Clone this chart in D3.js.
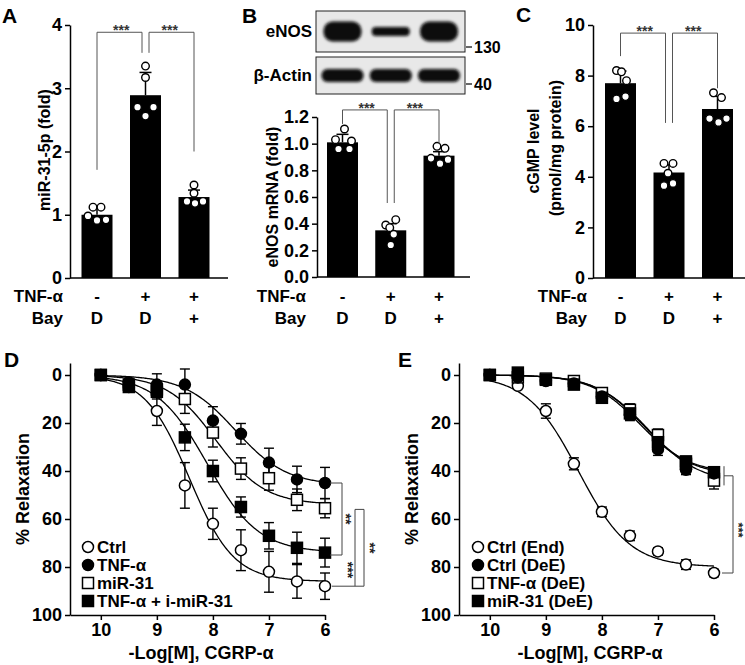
<!DOCTYPE html>
<html><head><meta charset="utf-8">
<script src="https://cdn.jsdelivr.net/npm/d3@7"></script>
<style>body{margin:0;background:#fff}svg{display:block}</style>
</head><body><script>
// ---------------- DATA ----------------
const groups = ["Veh", "TNF", "TNF+Bay"];
const tnfRow = ["-", "+", "+"];
const bayRow = ["D", "D", "+"];

const mirMean = [1.0, 2.89, 1.28];
const mirErr  = [0.11, 0.36, 0.11];
const mirPts  = [[1.12,1.12,0.98,0.91,0.92],[3.35,3.17,2.70,2.56,2.70],[1.47,1.34,1.21,1.18,1.21]];
const mirTicks = [0,1,2,3,4];

const enosMean = [1.01, 0.35, 0.91];
const enosErr  = [0.06, 0.05, 0.03];
const enosPts  = [[1.11,1.03,1.02,0.96,0.96],[0.43,0.39,0.37,0.32,0.24],[0.98,0.965,0.89,0.88,0.85]];
const enosTicks = [0,0.2,0.4,0.6,0.8,1.0,1.2];

const cgmpMean = [7.7, 4.17, 6.68];
const cgmpErr  = [0.48, 0.30, 0.50];
const cgmpPts  = [[8.2,8.15,7.8,7.08,7.17],[4.53,4.53,4.14,3.65,3.74],[7.32,7.13,6.3,6.15,6.3]];
const cgmpTicks = [0,2,4,6,8,10];

const blotLabels  = ["eNOS", "β-Actin"];
const blotMarkers = ["130", "40"];
const enosBand  = [1.0, 0.45, 1.0];
const actinBand = [1.0, 1.0, 1.0];

const logDose = [10, 9.5, 9, 8.5, 8, 7.5, 7, 6.5, 6];
const doseTicks = [10, 9, 8, 7, 6];
const relaxTicks = [0, 20, 40, 60, 80, 100];

const dNames = ["Ctrl", "TNF-α", "miR-31", "TNF-α + i-miR-31"];
const dCtrl     = [0, 5, 15, 46, 62, 73, 82, 86, 88];
const dCtrlErr  = [0, 1, 6, 9.5, 6.5, 8.5, 8.5, 7, 5.5];
const dTnf      = [0, 3, 4, 4, 19, 24.5, 36.5, 43.5, 45];
const dTnfErr   = [0, 1, 4.5, 6.5, 5.8, 4.3, 6, 5.5, 6.5];
const dMir      = [0, 4, 6, 10, 24, 39, 43, 52, 55.5];
const dMirErr   = [0, 1, 2, 6, 6, 4.5, 5, 4.5, 4];
const dTnfI     = [0, 5, 7, 26, 40, 55, 67, 72, 74];
const dTnfIErr  = [0, 1, 3, 5.5, 4.5, 4.2, 5.5, 6.5, 6];
const dFitTop = [86, 46, 54, 74];
const dFitEC  = [8.42, 7.6, 7.95, 8.1];
const dFitN   = [1.1, 0.95, 1.0, 0.95];

const eNames = ["Ctrl (End)", "Ctrl (DeE)", "TNF-α (DeE)", "miR-31 (DeE)"];
const eEnd      = [0, 4.5, 15, 37, 57, 67, 73.5, 79, 82.5];
const eEndErr   = [0, 1, 3, 2.5, 2, 2, 1.5, 2, 1.5];
const eCtrlDe   = [0, 1, 2.5, 3.5, 9, 16.5, 31, 39.5, 41];
const eCtrlDeErr= [0, 1, 1, 1, 2, 2.5, 2.5, 2, 2];
const eTnfDe    = [0, 1, 1.5, 2.5, 7.5, 14.5, 25, 37, 44];
const eTnfDeErr = [0, 1, 1, 1, 2, 2.5, 2.5, 2, 3.5];
const eMirDe    = [0, -1, 2, 4, 9.5, 16, 28, 36, 40.5];
const eMirDeErr = [0, 1, 1, 1, 2, 2.5, 2.5, 2, 2];
const eFitTop = [80, 41, 45, 42];
const eFitEC  = [8.42, 7.32, 7.18, 7.26];
const eFitN   = [0.95, 1.0, 0.95, 1.0];

// ---------------- DRAWING ----------------
const FONT = '"Liberation Sans", Arial, Helvetica, sans-serif';
const svg = d3.select("body").append("svg").attr("width", 745).attr("height", 665)
  .style("font-family", FONT).style("font-weight", "bold");

const defs = svg.append("defs");
defs.append("filter").attr("id", "blur").attr("x", "-20%").attr("y", "-50%").attr("width", "140%").attr("height", "200%")
  .append("feGaussianBlur").attr("stdDeviation", 1.6);

function styleAxis(g, fs) {
  g.attr("font-size", null).attr("font-family", null);
  g.selectAll("path,line").attr("stroke", "#000").attr("stroke-width", 1.5);
  g.selectAll("text").attr("font-size", fs).attr("font-family", FONT)
    .attr("font-weight", "bold").attr("fill", "#000");
}

function txt(x, y, s, o = {}) {
  const t = svg.append("text").attr("x", x).attr("y", y).text(s)
    .attr("font-size", o.fs || 17).attr("text-anchor", o.anchor || "start")
    .attr("fill", o.fill || "#000");
  if (o.rot !== undefined) t.attr("transform", `rotate(${o.rot},${x},${y})`);
  if (o.mid) t.attr("dominant-baseline", "central");
  return t;
}

const barW = 31;
function barPanel(c) {
  const x = d3.scalePoint().domain(groups).range(c.centers);
  const y = d3.scaleLinear().domain(c.domain).range(c.yRange);
  const g = svg.append("g");
  g.selectAll(".bar").data(c.mean).join("rect")
    .attr("x", (d, i) => x(groups[i]) - barW / 2).attr("y", d => y(d))
    .attr("width", barW).attr("height", d => y(0) - y(d)).attr("fill", "#000");
  const eb = g.selectAll(".eb").data(c.mean).join("g");
  eb.append("line").attr("x1", (d, i) => x(groups[i])).attr("x2", (d, i) => x(groups[i]))
    .attr("y1", d => y(d)).attr("y2", (d, i) => y(d + c.err[i])).attr("stroke", "#000").attr("stroke-width", 1.5);
  eb.append("line").attr("x1", (d, i) => x(groups[i]) - 6).attr("x2", (d, i) => x(groups[i]) + 6)
    .attr("y1", (d, i) => y(d + c.err[i])).attr("y2", (d, i) => y(d + c.err[i])).attr("stroke", "#000").attr("stroke-width", 1.5);
  c.pts.forEach((arr, i) => {
    g.selectAll(null).data(arr).join("circle")
      .attr("cx", (d, j) => x(groups[i]) + c.jit[i][j]).attr("cy", d => y(d)).attr("r", 3.8)
      .attr("fill", "#fff").attr("stroke", "#000").attr("stroke-width", 1.4);
  });
  const ya = svg.append("g").attr("transform", `translate(${c.axisX},0)`)
    .call(d3.axisLeft(y).tickValues(c.ticks).tickFormat(c.fmt).tickSize(5).tickSizeOuter(0).tickPadding(3));
  styleAxis(ya, 18);
  svg.append("line").attr("x1", c.axisX).attr("x2", c.xEnd).attr("y1", y(0)).attr("y2", y(0))
    .attr("stroke", "#000").attr("stroke-width", 1.5);
  const b = c.br, bg = svg.append("g").attr("stroke", "#555").attr("stroke-width", 1).attr("fill", "none");
  const xm = x(groups[1]);
  bg.append("path").attr("d", `M${x(groups[0])},${y(b.left)}V${y(b.top)}H${xm - 3.5}V${y(b.mid)}`);
  bg.append("path").attr("d", `M${xm + 3.5},${y(b.mid)}V${y(b.top)}H${x(groups[2])}V${y(b.right)}`);
  txt((x(groups[0]) + xm) / 2, y(b.top) + 3, "***", { fs: 14, anchor: "middle", fill: "#333" });
  txt((x(groups[2]) + xm) / 2, y(b.top) + 3, "***", { fs: 14, anchor: "middle", fill: "#333" });
  txt(c.rowX, 302, "TNF-α", { anchor: "end" });
  txt(c.rowX, 324, "Bay", { anchor: "end" });
  tnfRow.forEach((s, i) => txt(x(groups[i]), 302, s, { anchor: "middle" }));
  bayRow.forEach((s, i) => txt(x(groups[i]), 324, s, { anchor: "middle" }));
  return x;
}

// Panel A
barPanel({ centers: [97, 194], domain: [0, 4], yRange: [278, 25], mean: mirMean, err: mirErr, pts: mirPts,
  jit: [[-4, 4, -9, 0, 9], [0, 0, -8, 0, 8], [0, 0, -7, 1, 9]], ticks: mirTicks, fmt: d3.format("d"),
  axisX: 70, xEnd: 228, br: { top: 3.885, left: 1.71, mid: 3.56, right: 2.0 }, rowX: 63 });
txt(44, 150, "miR-31-5p (fold)", { fs: 16, anchor: "middle", rot: -90, mid: true });
txt(2, 23, "A", { fs: 21 });

// Panel B
const xB = barPanel({ centers: [342.5, 439], domain: [0, 1.2], yRange: [277, 117], mean: enosMean, err: enosErr, pts: enosPts,
  jit: [[2, -7, 9, -4, 7], [5, -5, -1, 3, 0], [-2, 6, -8, 9, 1]], ticks: enosTicks, fmt: d3.format(".1f"),
  axisX: 317, xEnd: 470, br: { top: 1.253, left: 1.148, mid: 0.555, right: 1.0 }, rowX: 306 });
txt(272, 197, "eNOS mRNA (fold)", { fs: 16, anchor: "middle", rot: -90, mid: true });
txt(242, 23, "B", { fs: 21 });

// Western blot
const boxes = [{ y: 11, h: 41, band: enosBand, th: 20, w: 38 }, { y: 57, h: 37, band: actinBand, th: 13, w: 42 }];
boxes.forEach((bx, k) => {
  svg.append("rect").attr("x", 316).attr("y", bx.y).attr("width", 149).attr("height", bx.h)
    .attr("fill", "#e8e8e8").attr("stroke", "#222").attr("stroke-width", 1);
  const cy = bx.y + bx.h / 2;
  svg.append("g").attr("filter", "url(#blur)").selectAll("rect").data(bx.band).join("rect")
    .attr("x", (d, i) => xB(groups[i]) - bx.w / 2).attr("width", bx.w)
    .attr("y", d => cy - bx.th * d / 2).attr("height", d => bx.th * d)
    .attr("rx", d => bx.th * d / 2.2).attr("fill", "#0a0a0a");
  txt(312, cy, blotLabels[k], { fs: 17, anchor: "end", mid: true });
  const my = k === 0 ? 47 : 84;
  svg.append("line").attr("x1", 466).attr("x2", 472).attr("y1", my).attr("y2", my).attr("stroke", "#000").attr("stroke-width", 1.2);
  txt(474, my, blotMarkers[k], { fs: 16, mid: true });
});

// Panel C
barPanel({ centers: [620.5, 717.5], domain: [0, 10], yRange: [278, 25], mean: cgmpMean, err: cgmpErr, pts: cgmpPts,
  jit: [[-4, 1, 6, -4, 5], [-5, 4, -1, -5, 4], [-4, 4, -8, 1, 9]], ticks: cgmpTicks, fmt: d3.format("d"),
  axisX: 593, xEnd: 745, br: { top: 9.68, left: 8.77, mid: 6.13, right: 7.5 }, rowX: 587 });
txt(533, 151, "cGMP level", { fs: 16, anchor: "middle", rot: -90, mid: true });
txt(555, 148, "(pmol/mg protein)", { fs: 16, anchor: "middle", rot: -90, mid: true });
txt(516, 22, "C", { fs: 21 });

// ---------------- Dose-response panels ----------------
function dosePanel(c) {
  const x = d3.scaleLinear().domain([10.55, 6]).range([c.axisX, c.axisX + 255]);
  const y = d3.scaleLinear().domain([-5, 100]).range([363, 615]);
  const g = svg.append("g");
  const line = d3.line().x(d => x(d[0])).y(d => y(d[1]));
  const xs = d3.range(0, 201).map(i => 10 - i * 0.02);
  c.series.forEach(s => {
    const f = v => s.top / (1 + Math.pow(10, s.n * (v - s.ec)));
    g.append("path").attr("d", line(xs.map(v => [v, f(v)]))).attr("fill", "none")
      .attr("stroke", "#000").attr("stroke-width", 1.3);
  });
  c.order.forEach(k => {
    const s = c.series[k];
    const eg = g.append("g").attr("stroke", "#000").attr("stroke-width", 1.4);
    logDose.forEach((d, i) => {
      const e = s.err[i]; if (!e) return;
      const xx = x(d);
      eg.append("line").attr("x1", xx).attr("x2", xx).attr("y1", y(s.val[i] - e)).attr("y2", y(s.val[i] + e));
      [s.val[i] - e, s.val[i] + e].forEach(v => eg.append("line").attr("x1", xx - 5).attr("x2", xx + 5).attr("y1", y(v)).attr("y2", y(v)));
    });
  });
  c.order.forEach(k => {
    const s = c.series[k];
    marker(g.selectAll(null).data(s.val).join(s.shape === "c" ? "circle" : "rect"), s.shape, s.fill,
      (d, i) => x(logDose[i]), d => y(d));
  });
  const ya = svg.append("g").attr("transform", `translate(${c.axisX},0)`)
    .call(d3.axisLeft(y).tickValues(relaxTicks).tickSize(5).tickSizeOuter(0).tickPadding(3));
  styleAxis(ya, 18);
  const xa = svg.append("g").attr("transform", `translate(0,615)`)
    .call(d3.axisBottom(x).tickValues(doseTicks).tickFormat(d3.format("d")).tickSize(5).tickSizeOuter(0).tickPadding(3));
  styleAxis(xa, 18);
  txt(c.axisX - 47, 489, "% Relaxation", { fs: 18, anchor: "middle", rot: -90, mid: true });
  txt(c.axisX + 131, 659, "-Log[M], CGRP-α", { fs: 18, anchor: "middle" });
  c.names.forEach((nm, k) => {
    const s = c.series[k], ly = 547 + k * 18;
    marker(svg.append(s.shape === "c" ? "circle" : "rect").datum(0), s.shape, s.fill, () => c.legX, () => ly);
    txt(c.legX + 9, ly + 6, nm, { fs: 17 });
  });
  return { x, y };
}
function marker(sel, shape, fill, fx, fy) {
  if (shape === "c") sel.attr("cx", fx).attr("cy", fy).attr("r", 5.5);
  else sel.attr("x", (d, i) => fx(d, i) - 5.5).attr("y", (d, i) => fy(d, i) - 5.5).attr("width", 11).attr("height", 11);
  sel.attr("fill", fill).attr("stroke", "#000").attr("stroke-width", 1.5);
}

// Panel D
const D = dosePanel({ axisX: 70, legX: 88, names: dNames, order: [0, 2, 1, 3],
  series: [
    { val: dCtrl, err: dCtrlErr, shape: "c", fill: "#fff", top: dFitTop[0], ec: dFitEC[0], n: dFitN[0] },
    { val: dTnf, err: dTnfErr, shape: "c", fill: "#000", top: dFitTop[1], ec: dFitEC[1], n: dFitN[1] },
    { val: dMir, err: dMirErr, shape: "s", fill: "#fff", top: dFitTop[2], ec: dFitEC[2], n: dFitN[2] },
    { val: dTnfI, err: dTnfIErr, shape: "s", fill: "#000", top: dFitTop[3], ec: dFitEC[3], n: dFitN[3] }] });
txt(4, 367, "D", { fs: 21 });
{
  const y = D.y, bg = svg.append("g").attr("stroke", "#444").attr("stroke-width", 1).attr("fill", "none");
  bg.append("path").attr("d", `M330,${y(45)}H342V${y(75)}H330`);
  bg.append("path").attr("d", `M355,${y(88)}V${y(56)}H364V${y(88)}H332`);
  txt(346, 519, "**", { fs: 14, anchor: "middle", rot: 90, mid: true, fill: "#222" });
  txt(348, 570, "***", { fs: 14, anchor: "middle", rot: 90, mid: true, fill: "#222" });
  txt(370, 548, "**", { fs: 14, anchor: "middle", rot: 90, mid: true, fill: "#222" });
}

// Panel E
const E = dosePanel({ axisX: 459, legX: 478, names: eNames, order: [0, 2, 1, 3],
  series: [
    { val: eEnd, err: eEndErr, shape: "c", fill: "#fff", top: eFitTop[0], ec: eFitEC[0], n: eFitN[0] },
    { val: eCtrlDe, err: eCtrlDeErr, shape: "c", fill: "#000", top: eFitTop[1], ec: eFitEC[1], n: eFitN[1] },
    { val: eTnfDe, err: eTnfDeErr, shape: "s", fill: "#fff", top: eFitTop[2], ec: eFitEC[2], n: eFitN[2] },
    { val: eMirDe, err: eMirDeErr, shape: "s", fill: "#000", top: eFitTop[3], ec: eFitEC[3], n: eFitN[3] }] });
txt(398, 367, "E", { fs: 21 });
{
  const y = E.y, bg = svg.append("g").attr("stroke", "#444").attr("stroke-width", 1).attr("fill", "none");
  bg.append("path").attr("d", `M724,${y(38)}V${y(46)}`);
  bg.append("path").attr("d", `M724,${y(42)}H733V${y(82.5)}H722`);
  txt(738, 530, "***", { fs: 13, anchor: "middle", rot: 90, mid: true, fill: "#222" });
}
</script></body></html>
